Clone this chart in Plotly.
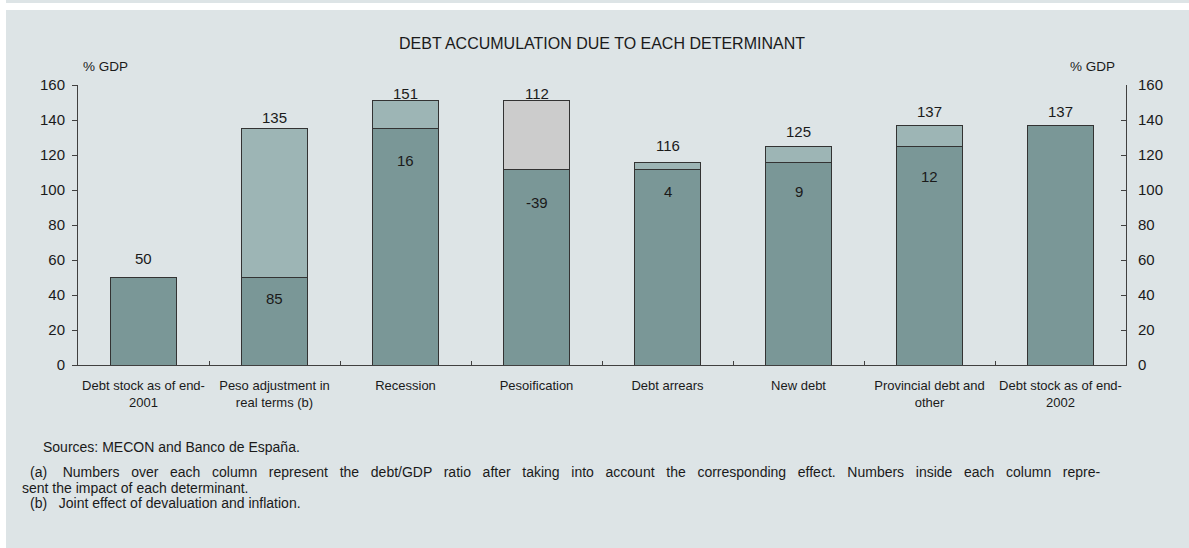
import plotly.graph_objects as go

# ---------------- data ----------------
categories = [
    "Debt stock as of end-<br>2001",
    "Peso adjustment in<br>real terms (b)",
    "Recession",
    "Pesoification",
    "Debt arrears",
    "New debt",
    "Provincial debt and<br>other",
    "Debt stock as of end-<br>2002",
]
base_values = [50, 50, 135, 112, 112, 116, 125, 137]      # dark part of each column
impact_values = [None, 85, 16, -39, 4, 9, 12, None]       # effect of each determinant
ratio_after = [50, 135, 151, 112, 116, 125, 137, 137]     # debt/GDP after the effect
y_ticks = [0, 20, 40, 60, 80, 100, 120, 140, 160]

# label placement (data units)
top_label_y = [61, 141.7, 155.4, 155.4, 125.7, 133.7, 145.1, 145.1]
inner_label_y = [None, 38, 117, 93, 99, 99, 108, None]

# ---------------- styles ----------------
DARK = "#7a9797"
LIGHT = "#9db5b5"
GREY = "#cccccc"
PANEL = "#dde4e6"
EDGE = "#333333"
TXT = "#1a1a1a"
FONT = "Liberation Sans, Arial, sans-serif"

seg_heights = [abs(v) if v is not None else None for v in impact_values]
seg_colors = [GREY if (v is not None and v < 0) else LIGHT for v in impact_values]

fig = go.Figure()
fig.add_trace(go.Bar(
    x=categories, y=base_values, width=0.5,
    marker=dict(color=DARK, line=dict(color=EDGE, width=1)),
    hoverinfo="skip", showlegend=False,
))
fig.add_trace(go.Bar(
    x=categories, y=seg_heights, width=0.5,
    marker=dict(color=seg_colors, line=dict(color=EDGE, width=1)),
    hoverinfo="skip", showlegend=False,
))
# invisible trace to activate right axis
fig.add_trace(go.Scatter(x=[categories[0]], y=[0], yaxis="y2", mode="markers",
                         marker=dict(opacity=0), hoverinfo="skip", showlegend=False))

annotations = []
for cat, val, ty in zip(categories, ratio_after, top_label_y):
    annotations.append(dict(x=cat, y=ty, xref="x", yref="y", text=str(val),
                            showarrow=False, font=dict(size=15, color=TXT, family=FONT),
                            yanchor="middle"))
for cat, imp, iy in zip(categories, impact_values, inner_label_y):
    if imp is None:
        continue
    annotations.append(dict(x=cat, y=iy, xref="x", yref="y", text=str(imp),
                            showarrow=False, font=dict(size=15, color=TXT, family=FONT),
                            yanchor="middle"))

W, H = 1189, 548
L, R, T, B = 78, 63, 85, 183
pw, ph = W - L - R, H - T - B


def px(xp):
    return (xp - L) / pw


def py(yp):
    return (H - B - yp) / ph


# justified first line of note (a)
note_a_words = ("Numbers over each column represent the debt/GDP ratio after taking into "
                "account the corresponding effect. Numbers inside each column repre-").split(" ")
note_a = "(a)    " + "   ".join(note_a_words)

FN = dict(size=14, color=TXT, family=FONT)
annotations += [
    dict(x=px(81), y=py(66), xref="paper", yref="paper", text="% GDP", showarrow=False,
         xanchor="left", yanchor="middle", font=dict(size=13.5, color=TXT, family=FONT)),
    dict(x=px(1117), y=py(66), xref="paper", yref="paper", text="% GDP", showarrow=False,
         xanchor="right", yanchor="middle", font=dict(size=13.5, color=TXT, family=FONT)),
    dict(x=px(41), y=py(447), xref="paper", yref="paper",
         text="Sources: MECON and Banco de España.", showarrow=False,
         xanchor="left", yanchor="middle", font=FN),
    dict(x=px(28), y=py(472), xref="paper", yref="paper", text=note_a,
         showarrow=False, xanchor="left", yanchor="middle", font=FN),
    dict(x=px(20), y=py(488), xref="paper", yref="paper",
         text="sent the impact of each determinant.", showarrow=False,
         xanchor="left", yanchor="middle", font=FN),
    dict(x=px(28), y=py(503), xref="paper", yref="paper",
         text="(b)   Joint effect of devaluation and inflation.", showarrow=False,
         xanchor="left", yanchor="middle", font=FN),
]

shapes = [
    dict(type="rect", xref="paper", yref="paper", x0=px(0), x1=px(W), y0=py(0), y1=py(H),
         fillcolor="white", line=dict(width=0), layer="below"),
    dict(type="rect", xref="paper", yref="paper", x0=px(6), x1=px(W), y0=py(0), y1=py(3),
         fillcolor=PANEL, line=dict(width=0), layer="below"),
    dict(type="rect", xref="paper", yref="paper", x0=px(6), x1=px(W), y0=py(10), y1=py(H),
         fillcolor=PANEL, line=dict(width=0), layer="below"),
]

fig.update_layout(
    width=W, height=H,
    margin=dict(l=L, r=R, t=T, b=B, pad=0),
    paper_bgcolor="white", plot_bgcolor="rgba(0,0,0,0)",
    barmode="stack", bargap=0.5,
    font=dict(family=FONT, color=TXT),
    title=dict(text="DEBT ACCUMULATION DUE TO EACH DETERMINANT", x=px(602), xref="paper",
               xanchor="center", y=1 - 43 / H, yref="container", yanchor="middle",
               font=dict(size=16, color=TXT, family=FONT)),
    xaxis=dict(
        type="category", showline=True, linecolor="#404040", linewidth=1,
        ticks="inside", ticklen=4, tickcolor="#404040", tickson="boundaries",
        tickfont=dict(size=13, color=TXT, family=FONT), showgrid=False, zeroline=False,
        ticklabelstandoff=8, tickangle=0,
    ),
    yaxis=dict(
        range=[0, 160], tickvals=y_ticks, showline=True, linecolor="#404040", linewidth=1,
        ticks="outside", ticklen=5, tickcolor="#404040", showgrid=False, zeroline=False,
        tickfont=dict(size=15, color=TXT, family=FONT), ticklabelstandoff=4,
    ),
    yaxis2=dict(
        range=[0, 160], tickvals=y_ticks, overlaying="y", side="right", showline=True,
        linecolor="#404040", linewidth=1, ticks="inside", ticklen=5, tickcolor="#404040",
        showgrid=False, zeroline=False, tickfont=dict(size=15, color=TXT, family=FONT),
        ticklabelstandoff=8,
    ),
    annotations=annotations,
    shapes=shapes,
)

fig.write_html("out.html", config={"displayModeBar": False, "staticPlot": True},
               post_script="document.body.style.margin='0';")
